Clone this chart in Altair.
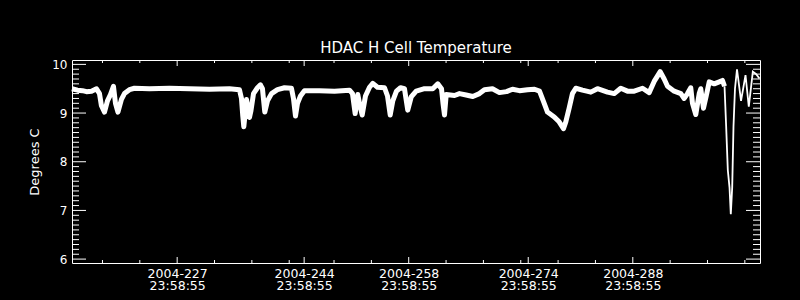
import altair as alt
import pandas as pd

# ---- data (day-of-year 2004, temperature in deg C) ----
days = [
    212.92, 213.65, 214.32, 214.86, 215.53, 216.20, 216.60, 216.86, 217.27, 217.67,
    218.07, 218.47, 218.74, 219.07, 219.54, 219.94, 220.61, 221.28, 223.29, 225.97,
    228.65, 231.32, 234.00, 235.34, 235.61, 235.78, 235.92, 236.14, 236.28, 236.48,
    236.68, 236.88, 237.22, 237.75, 238.15, 238.42, 238.73, 239.09, 239.63, 240.43,
    241.37, 242.30, 242.57, 242.84, 243.11, 243.51, 244.04, 246.05, 248.06, 250.07,
    250.47, 250.83, 251.18, 251.47, 251.77, 252.21, 252.75, 253.19, 253.82, 254.76,
    255.16, 255.52, 255.87, 256.36, 256.90, 257.43, 257.87, 258.33, 259.00, 260.11,
    261.22, 261.89, 262.39, 262.59, 262.79, 263.02, 264.13, 264.80, 265.69, 266.58,
    267.47, 268.14, 269.21, 270.15, 271.09, 271.89, 272.83, 273.90, 274.84, 275.51,
    276.14, 276.58, 277.48, 278.14, 278.72, 279.03, 279.48, 279.92, 280.37, 281.26,
    282.38, 283.27, 284.61, 285.51, 286.39, 287.29, 288.19, 289.30, 290.19, 290.86,
    291.67, 292.20, 292.65, 293.54, 294.43, 294.88, 295.32, 295.76, 295.99, 296.43,
    296.89, 297.10, 297.46, 297.83, 298.23, 298.90, 299.57, 300.01, 300.28, 300.50,
    300.72, 300.95, 301.12, 301.31, 301.48, 301.68, 301.95, 302.49, 303.09, 303.53,
    304.07, 304.52, 304.96,
]
temps = [
    9.50, 9.47, 9.46, 9.44, 9.45, 9.50, 9.40, 9.15, 9.02, 9.25,
    9.38, 9.55, 9.20, 9.02, 9.28, 9.40, 9.48, 9.51, 9.50, 9.51,
    9.50, 9.49, 9.50, 9.48, 9.30, 8.95, 8.72, 9.05, 9.28, 9.10,
    8.91, 9.05, 9.40, 9.52, 9.58, 9.50, 9.02, 9.25, 9.40, 9.48,
    9.52, 9.51, 9.30, 8.94, 9.20, 9.35, 9.46, 9.46, 9.45, 9.47,
    9.40, 8.99, 9.38, 9.15, 8.96, 9.35, 9.53, 9.61, 9.53, 9.52,
    9.35, 8.96, 9.25, 9.45, 9.52, 9.50, 9.06, 9.33, 9.45, 9.50,
    9.50, 9.60, 9.50, 9.20, 8.96, 9.38, 9.36, 9.40, 9.37, 9.34,
    9.40, 9.48, 9.50, 9.42, 9.44, 9.49, 9.46, 9.48, 9.49, 9.45,
    9.20, 9.02, 8.92, 8.82, 8.68, 8.82, 9.10, 9.40, 9.51, 9.47,
    9.43, 9.50, 9.43, 9.40, 9.51, 9.45, 9.45, 9.51, 9.42, 9.65,
    9.85, 9.70, 9.55, 9.45, 9.40, 9.30, 9.40, 9.52, 9.20, 8.97,
    9.40, 9.50, 9.10, 9.35, 9.64, 9.60, 9.64, 9.67, 9.55, 8.72,
    7.83, 7.47, 6.92, 7.48, 8.72, 9.50, 9.90, 9.25, 9.78, 9.13,
    9.85, 9.80, 9.71,
]

title_text = "HDAC H Cell Temperature"
y_title = "Degrees C"
label_days = [227, 244, 258, 274, 288]
label_year = "2004"
label_time = "23:58:55"
x_minor_days = [217, 222, 232, 237, 242, 248, 253, 263, 268, 273, 278, 283, 293, 298, 303]
y_major = [6, 7, 8, 9, 10]
y_minor = [round(6 + i * 0.1, 1) for i in range(1, 40) if i % 10 != 0]

X_DOMAIN = [212.92, 305.03]
Y_DOMAIN = [5.92, 10.09]
W, H = 688, 203
FONT = "DejaVu Sans"
SPLIT_DAY = 300.28  # quiet (noisy, thick band) part before, thin trace after

df = pd.DataFrame({"day": days, "temp": temps})
df_thick = df[df["day"] <= SPLIT_DAY].reset_index(drop=True)
df_thin = df[df["day"] >= SPLIT_DAY].reset_index(drop=True)

xs = alt.Scale(domain=X_DOMAIN, nice=False, zero=False)
ys = alt.Scale(domain=Y_DOMAIN, nice=False, zero=False)

x_axis = alt.Axis(
    values=label_days,
    labelExpr="['" + label_year + "-' + datum.value, '" + label_time + "']",
    ticks=False, domain=False, grid=False,
    labelFontSize=12.5, labelPadding=4, labelLineHeight=12,
    labelFlush=False, labelOverlap=False, title=None,
)
y_axis = alt.Axis(
    values=y_major, format="d",
    ticks=False, domain=False, grid=False,
    labelFontSize=12, labelPadding=5,
    title=y_title, titleFontSize=13, titleFontWeight="normal",
    titleX=-33.5, titleY=H / 2, titleBaseline="alphabetic", titleAngle=270,
)

X = alt.X("day:Q", scale=xs, axis=x_axis)
Y = alt.Y("temp:Q", scale=ys, axis=y_axis)

ymaj = pd.DataFrame({"temp": y_major})
ymin = pd.DataFrame({"temp": y_minor})
xmaj = pd.DataFrame({"day": label_days})
xmin = pd.DataFrame({"day": x_minor_days})


def ytick(data, length, right=False):
    x0 = W - length if right else 0
    x1 = W if right else length
    return alt.Chart(data).mark_rule(color="white", strokeWidth=1).encode(
        y=Y, x=alt.value(x0), x2=alt.value(x1)
    )


def xtick(data, length, top=False):
    y0 = 0 if top else H - length
    y1 = length if top else H
    return alt.Chart(data).mark_rule(color="white", strokeWidth=1).encode(
        x=X, y=alt.value(y0), y2=alt.value(y1)
    )


thick = alt.Chart(df_thick).mark_line(
    color="white", strokeWidth=5, strokeJoin="round"
).encode(x=X, y=Y)
thin = alt.Chart(df_thin).mark_line(color="white", strokeWidth=1.8).encode(x=X, y=Y)

title_df = pd.DataFrame({"t": [title_text]})
title = alt.Chart(title_df).mark_text(
    color="white", font=FONT, fontSize=15, baseline="alphabetic", align="center"
).encode(text="t:N", x=alt.value(W / 2), y=alt.value(-7.5))

chart = (
    alt.layer(
        ytick(ymaj, 14), ytick(ymin, 7), ytick(ymaj, 14, True), ytick(ymin, 7, True),
        xtick(xmaj, 6), xtick(xmin, 3), xtick(xmaj, 6, True), xtick(xmin, 3, True),
        thick, thin, title,
    )
    .properties(
        width=W, height=H,
        autosize=alt.AutoSizeParams(type="none"),
        padding={"left": 72, "top": 60, "right": 40, "bottom": 37},
        background="black",
    )
    .configure_view(stroke="white", strokeWidth=1)
    .configure_axis(labelColor="white", titleColor="white", labelFont=FONT, titleFont=FONT)
)

chart.save("out.html", embed_options={"renderer": "svg", "actions": False})
